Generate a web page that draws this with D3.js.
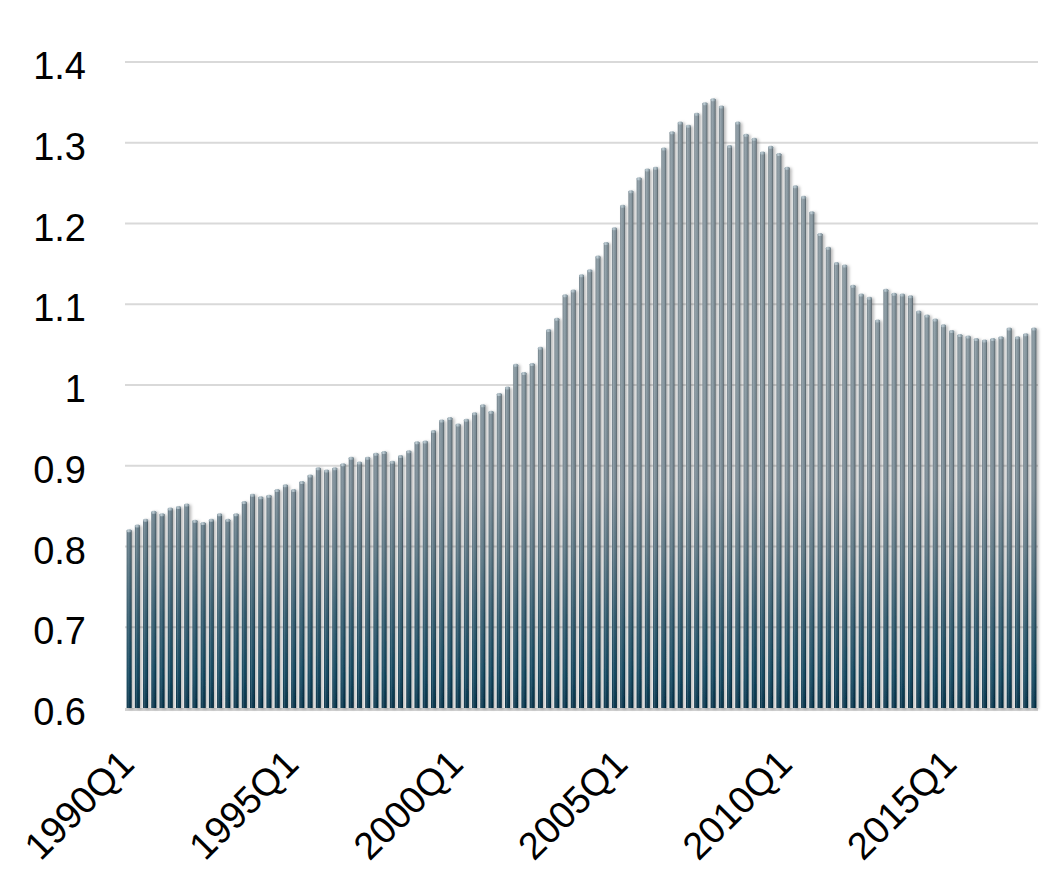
<!DOCTYPE html>
<html>
<head>
<meta charset="utf-8">
<script src="https://cdn.jsdelivr.net/npm/d3@7"></script>
<style>
  html, body { margin: 0; padding: 0; background: #ffffff; }
  svg { display: block; }
</style>
</head>
<body>
<svg id="chart" width="1051" height="884"></svg>
<script>
// Quarterly series, 1990Q1 onwards
const startYear = 1990;
const values = [
  0.820, 0.826, 0.833, 0.843, 0.840, 0.847, 0.849, 0.852,
  0.832, 0.829, 0.833, 0.840, 0.833, 0.840, 0.855, 0.864,
  0.861, 0.863, 0.870, 0.876, 0.870, 0.880, 0.888, 0.897,
  0.894, 0.897, 0.902, 0.910, 0.904, 0.910, 0.915, 0.917,
  0.905, 0.912, 0.918, 0.929, 0.930, 0.943, 0.956, 0.959,
  0.951, 0.957, 0.965, 0.975, 0.967, 0.989, 0.997, 1.025,
  1.015, 1.026, 1.046, 1.068, 1.082, 1.111, 1.117, 1.136,
  1.142, 1.159, 1.176, 1.194, 1.222, 1.240, 1.256, 1.267,
  1.269, 1.293, 1.313, 1.325, 1.321, 1.336, 1.349, 1.354,
  1.345, 1.296, 1.325, 1.310, 1.305, 1.288, 1.295, 1.286,
  1.269, 1.246, 1.233, 1.214, 1.187, 1.170, 1.151, 1.148,
  1.123, 1.112, 1.108, 1.080, 1.118, 1.113, 1.112, 1.110,
  1.091, 1.086, 1.081, 1.074, 1.067, 1.062, 1.060, 1.057,
  1.055, 1.057, 1.059, 1.070, 1.059, 1.063, 1.070
];
const categories = values.map((_, i) => `${startYear + Math.floor(i / 4)}Q${(i % 4) + 1}`);
const xTickLabels = ["1990Q1", "1995Q1", "2000Q1", "2005Q1", "2010Q1", "2015Q1"];
const yTicks = [0.6, 0.7, 0.8, 0.9, 1.0, 1.1, 1.2, 1.3, 1.4];
const yTickLabels = ["0.6", "0.7", "0.8", "0.9", "1", "1.1", "1.2", "1.3", "1.4"];

const svg = d3.select("#chart");
const plotLeft = 125, plotRight = 1038, plotTop = 62, plotBottom = 708;

const x = d3.scaleBand()
  .domain(categories)
  .range([plotLeft, plotRight])
  .paddingInner(0.4)
  .paddingOuter(0.2);

const y = d3.scaleLinear()
  .domain([0.6, 1.4])
  .range([plotBottom, plotTop]);

// ---- gradients / filters ----
const defs = svg.append("defs");

// vertical colour ramp shared by all bars: dark teal at the base, slate grey higher up
const vGrad = defs.append("linearGradient")
  .attr("id", "barFill")
  .attr("gradientUnits", "userSpaceOnUse")
  .attr("x1", 0).attr("y1", plotBottom)
  .attr("x2", 0).attr("y2", plotTop);
[
  [0.00, "#05324a"],
  [0.05, "#0f455e"],
  [0.14, "#2f596d"],
  [0.24, "#587482"],
  [0.34, "#778994"],
  [0.55, "#82939c"],
  [1.00, "#86959e"]
].forEach(([o, c]) => vGrad.append("stop").attr("offset", o).attr("stop-color", c));

// cylinder-like shading across each bar
const hGrad = defs.append("linearGradient")
  .attr("id", "barShade")
  .attr("x1", 0).attr("y1", 0).attr("x2", 1).attr("y2", 0);
[
  [0.00, "#000000", 0.10],
  [0.30, "#ffffff", 0.16],
  [0.55, "#ffffff", 0.02],
  [0.80, "#000000", 0.12],
  [1.00, "#000000", 0.38]
].forEach(([o, c, a]) => hGrad.append("stop")
  .attr("offset", o).attr("stop-color", c).attr("stop-opacity", a));

const capGrad = defs.append("linearGradient")
  .attr("id", "capFill")
  .attr("x1", 0).attr("y1", 0).attr("x2", 1).attr("y2", 0);
[
  [0.0, "#98aab3"],
  [0.4, "#bccad1"],
  [1.0, "#738690"]
].forEach(([o, c]) => capGrad.append("stop").attr("offset", o).attr("stop-color", c));

const shadow = defs.append("filter")
  .attr("id", "barShadow")
  .attr("x", "-5%").attr("y", "-5%")
  .attr("width", "110%").attr("height", "110%");
shadow.append("feDropShadow")
  .attr("dx", 2).attr("dy", 1)
  .attr("stdDeviation", 1.6)
  .attr("flood-color", "#000000")
  .attr("flood-opacity", 0.28);

// ---- gridlines ----
svg.append("g")
  .selectAll("line")
  .data(yTicks.slice(1))
  .join("line")
  .attr("x1", plotLeft).attr("x2", plotRight)
  .attr("y1", d => y(d)).attr("y2", d => y(d))
  .attr("stroke", "#d9d9d9")
  .attr("stroke-width", 2);

// baseline band under the bars
svg.append("rect")
  .attr("x", plotLeft).attr("y", plotBottom)
  .attr("width", plotRight - plotLeft).attr("height", 3)
  .attr("fill", "#d2d2d2");

// ---- bars ----
const bw = x.bandwidth();
const bars = svg.append("g").attr("filter", "url(#barShadow)");

const barG = bars.selectAll("g")
  .data(values)
  .join("g")
  .attr("transform", (d, i) => `translate(${x(categories[i])},0)`);

barG.append("rect")
  .attr("x", 0)
  .attr("y", d => y(d))
  .attr("width", bw)
  .attr("height", d => y(0.6) - y(d))
  .attr("fill", "url(#barFill)");

barG.append("rect")
  .attr("x", 0)
  .attr("y", d => y(d))
  .attr("width", bw)
  .attr("height", d => y(0.6) - y(d))
  .attr("fill", "url(#barShade)");

barG.append("rect")
  .attr("x", 0)
  .attr("y", d => y(d) - 1)
  .attr("width", bw)
  .attr("height", 3)
  .attr("rx", 1.5)
  .attr("fill", "url(#capFill)");

// ---- y axis labels ----
svg.append("g")
  .selectAll("text")
  .data(yTicks)
  .join("text")
  .attr("x", 86)
  .attr("y", d => y(d))
  .attr("dy", "0.45em")
  .attr("text-anchor", "end")
  .attr("font-family", "Liberation Sans, Arial, sans-serif")
  .attr("font-size", 38)
  .attr("fill", "#000")
  .text((d, i) => yTickLabels[i]);

// ---- x axis labels ----
svg.append("g")
  .selectAll("text")
  .data(xTickLabels)
  .join("text")
  .attr("transform", d => `translate(${x(d) + bw / 2 + 7},766) rotate(-45)`)
  .attr("text-anchor", "end")
  .attr("font-family", "Liberation Sans, Arial, sans-serif")
  .attr("font-size", 38)
  .attr("fill", "#000")
  .text(d => d);
</script>
</body>
</html>
